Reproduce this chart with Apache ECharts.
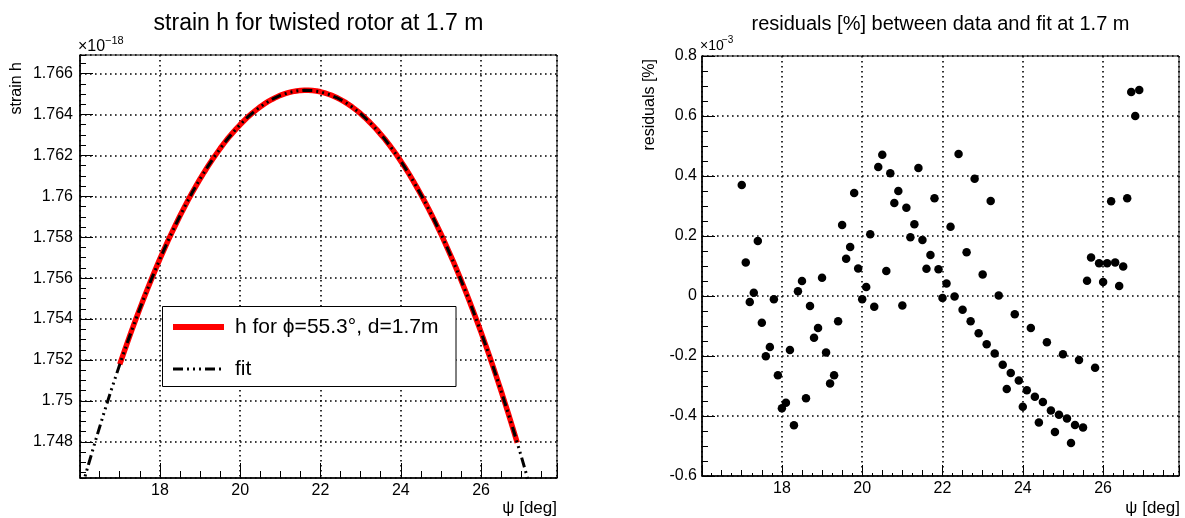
<!DOCTYPE html>
<html><head><meta charset="utf-8">
<script src="https://cdn.jsdelivr.net/npm/echarts@6/dist/echarts.min.js"></script>
<style>html,body{margin:0;padding:0;background:#fff}#c{width:1185px;height:518px}</style>
</head><body><div id="c"></div>
<script>
// ---- data ----
const psi = [17.0,17.1,17.2,17.3,17.4,17.5,17.6,17.7,17.8,17.9,
  18.0,18.1,18.2,18.3,18.4,18.5,18.6,18.7,18.8,18.9,
  19.0,19.1,19.2,19.3,19.4,19.5,19.6,19.7,19.8,19.9,
  20.0,20.1,20.2,20.3,20.4,20.5,20.6,20.7,20.8,20.9,
  21.0,21.1,21.2,21.3,21.4,21.5,21.6,21.7,21.8,21.9,
  22.0,22.1,22.2,22.3,22.4,22.5,22.6,22.7,22.8,22.9,
  23.0,23.1,23.2,23.3,23.4,23.5,23.6,23.7,23.8,23.9,
  24.0,24.1,24.2,24.3,24.4,24.5,24.6,24.7,24.8,24.9,
  25.0,25.1,25.2,25.3,25.4,25.5,25.6,25.7,25.8,25.9,
  26.0,26.1,26.2,26.3,26.4,26.5,26.6,26.7,26.8,26.9];
// strain h in units of 1e-18
const strainH = [1.75178,1.75235,1.75291,1.75346,1.75399,1.75451,1.75502,1.75552,1.75600,1.75648,
  1.75694,1.75738,1.75782,1.75824,1.75865,1.75905,1.75943,1.75981,1.76017,1.76051,
  1.76085,1.76117,1.76148,1.76178,1.76206,1.76234,1.76260,1.76285,1.76308,1.76330,
  1.76351,1.76371,1.76390,1.76407,1.76423,1.76438,1.76452,1.76464,1.76475,1.76485,
  1.76494,1.76501,1.76507,1.76512,1.76515,1.76518,1.76519,1.76519,1.76517,1.76515,
  1.76511,1.76506,1.76499,1.76492,1.76483,1.76473,1.76462,1.76449,1.76435,1.76420,
  1.76404,1.76386,1.76367,1.76347,1.76326,1.76303,1.76280,1.76255,1.76228,1.76201,
  1.76172,1.76142,1.76111,1.76078,1.76044,1.76009,1.75973,1.75936,1.75897,1.75857,
  1.75816,1.75773,1.75729,1.75685,1.75638,1.75591,1.75542,1.75492,1.75441,1.75388,
  1.75335,1.75280,1.75224,1.75166,1.75107,1.75048,1.74986,1.74924,1.74860,1.74795];
const fitPsi = [16.0,16.2,16.4,16.6,16.8,17.0,17.2,17.4,17.6,17.8,18.0,18.2,18.4,18.6,18.8,
  19.0,19.2,19.4,19.6,19.8,20.0,20.2,20.4,20.6,20.8,21.0,21.2,21.4,21.6,21.8,
  22.0,22.2,22.4,22.6,22.8,23.0,23.2,23.4,23.6,23.8,24.0,24.2,24.4,24.6,24.8,
  25.0,25.2,25.4,25.6,25.8,26.0,26.2,26.4,26.6,26.8,27.0,27.2,27.4];
const fitH = [1.74537,1.74675,1.74808,1.74937,1.75060,1.75178,1.75291,1.75399,1.75502,1.75600,1.75694,1.75782,1.75865,1.75943,1.76017,
  1.76085,1.76148,1.76206,1.76260,1.76308,1.76351,1.76390,1.76423,1.76452,1.76475,1.76494,1.76507,1.76515,1.76519,1.76517,
  1.76511,1.76499,1.76483,1.76462,1.76435,1.76404,1.76367,1.76326,1.76280,1.76228,1.76172,1.76111,1.76044,1.75973,1.75897,
  1.75816,1.75729,1.75638,1.75542,1.75441,1.75335,1.75224,1.75107,1.74986,1.74860,1.74729,1.74593,1.74452];
// residuals [%] in units of 1e-3
const residuals = [0.37,0.112,-0.02,0.011,0.183,-0.089,-0.201,-0.17,-0.011,-0.264,
  -0.374,-0.356,-0.18,-0.431,0.016,0.05,-0.341,-0.033,-0.139,-0.107,
  0.061,-0.188,-0.292,-0.264,-0.084,0.237,0.124,0.163,0.343,0.092,
  -0.011,0.03,0.206,-0.036,0.43,0.471,0.083,0.409,0.31,0.35,
  -0.032,0.294,0.196,0.239,0.427,0.187,0.091,0.137,0.326,0.089,
  -0.007,0.042,0.231,-0.002,0.473,-0.046,0.146,-0.084,0.391,-0.124,
  0.072,-0.161,0.317,-0.192,0.002,-0.229,-0.31,-0.257,-0.061,-0.282,
  -0.369,-0.314,-0.107,-0.336,-0.422,-0.353,-0.154,-0.382,-0.453,-0.396,
  -0.194,-0.408,-0.49,-0.43,-0.213,-0.438,0.051,0.128,-0.239,0.109,
  0.047,0.109,0.316,0.112,0.033,0.098,0.326,0.68,0.6,0.687];

const titles = ['strain h for twisted rotor at 1.7 m', 'residuals [%] between data and fit at 1.7 m'];
const yTitles = ['strain h', 'residuals [%]'];
const xTitle = 'ψ [deg]';
const legendLabels = ['h for ϕ=55.3°, d=1.7m', 'fit'];

// ---- layout ----
const FONT = '"Liberation Sans", Arial, Helvetica, sans-serif';
const G0 = {left: 80, top: 55, width: 477, height: 423};
const G1 = {left: 702, top: 56, width: 477, height: 420};
const fmt = v => String(parseFloat(v.toFixed(6)));
const dotted = {color: '#000', width: 1.6, type: [1.6, 3.4]};
const fitDash = [10, 4, 2, 4, 2, 4, 2, 4];
const blk = {color: '#000', width: 1};

function xAxisCfg(grid, tickLen, minorLen, minorSplit) {
  return {
    type: 'value', gridIndex: grid, position: 'bottom', min: 16.01, max: 27.89, splitNumber: 6,
    axisLine: {show: true, onZero: false, lineStyle: {color: '#000', width: 1.5}},
    axisTick: {show: true, inside: true, length: tickLen, lineStyle: blk},
    minorTick: {show: true, splitNumber: minorSplit, length: minorLen, lineStyle: blk},
    axisLabel: {color: '#000', fontFamily: FONT, fontSize: 16, margin: 5, showMinLabel: false, showMaxLabel: false, formatter: fmt},
    splitLine: {show: true, lineStyle: dotted}
  };
}
function tickOnlyAxis(grid, pos, min, max, splitNumber, len) {
  return {
    type: 'value', gridIndex: grid, position: pos, min: min, max: max, splitNumber: splitNumber,
    axisLine: {show: false, onZero: false},
    axisTick: {show: true, inside: true, length: len, lineStyle: blk},
    axisLabel: {show: false}, splitLine: {show: false}
  };
}

const chart = echarts.init(document.getElementById('c'), null, {renderer: 'canvas'});
chart.setOption({
  animation: false,
  backgroundColor: '#fff',
  grid: [
    Object.assign({show: true, borderColor: '#000', borderWidth: 1, containLabel: false}, G0),
    Object.assign({show: true, borderColor: '#000', borderWidth: 1, containLabel: false}, G1)
  ],
  xAxis: [
    xAxisCfg(0, 15, 7, 4),
    xAxisCfg(1, 11, 3, 8),
    tickOnlyAxis(1, 'bottom', 16.01, 27.89, 24, 6)
  ],
  yAxis: [
    {
      type: 'value', gridIndex: 0, position: 'left', min: 1.74623, max: 1.76691, splitNumber: 10,
      axisLine: {show: true, onZero: false, lineStyle: {color: '#000', width: 1.5}},
      axisTick: {show: true, inside: true, length: 13, lineStyle: blk},
      axisLabel: {color: '#000', fontFamily: FONT, fontSize: 16, margin: 7, showMinLabel: false, showMaxLabel: false, formatter: fmt},
      splitLine: {show: true, lineStyle: dotted}
    },
    tickOnlyAxis(0, 'left', 1.74623, 1.76691, 41, 6),
    {
      type: 'value', gridIndex: 1, position: 'left', min: -0.6, max: 0.8, interval: 0.2,
      axisLine: {show: true, onZero: false, lineStyle: {color: '#000', width: 1.5}},
      axisTick: {show: true, inside: true, length: 13, lineStyle: blk},
      minorTick: {show: true, splitNumber: 4, length: 6, lineStyle: blk},
      axisLabel: {color: '#000', fontFamily: FONT, fontSize: 16, margin: 5, formatter: fmt},
      splitLine: {show: true, lineStyle: dotted}
    }
  ],
  series: [
    {
      name: legendLabels[0], type: 'line', xAxisIndex: 0, yAxisIndex: 0, clip: true,
      data: psi.map((x, i) => [x, strainH[i]]), showSymbol: false, symbol: 'none',
      lineStyle: {color: '#ff0000', width: 5.5}, z: 3
    },
    {
      name: legendLabels[1], type: 'line', xAxisIndex: 0, yAxisIndex: 0, clip: true,
      data: fitPsi.map((x, i) => [x, fitH[i]]), showSymbol: false, symbol: 'none',
      lineStyle: {color: '#000', width: 3, type: fitDash, cap: 'butt'}, z: 4
    },
    {
      type: 'scatter', xAxisIndex: 1, yAxisIndex: 2,
      data: psi.map((x, i) => [x, residuals[i]]),
      symbol: 'circle', symbolSize: 8.5, itemStyle: {color: '#000', opacity: 1}
    }
  ],
  graphic: [
    {type: 'text', x: 318.5, y: 24, style: {text: titles[0], font: '23px ' + FONT, fill: '#000', align: 'center', verticalAlign: 'middle', textAlign: 'center', textVerticalAlign: 'middle'}},
    {type: 'text', x: 940.5, y: 24.5, style: {text: titles[1], font: '20px ' + FONT, fill: '#000', align: 'center', verticalAlign: 'middle', textAlign: 'center', textVerticalAlign: 'middle'}},
    // exponents
    {type: 'text', x: 78, y: 47, style: {text: '×10', font: '16px ' + FONT, fill: '#000', align: 'left', verticalAlign: 'middle', textAlign: 'left', textVerticalAlign: 'middle'}},
    {type: 'text', x: 105, y: 41, style: {text: '−18', font: '11px ' + FONT, fill: '#000', align: 'left', verticalAlign: 'middle', textAlign: 'left', textVerticalAlign: 'middle'}},
    {type: 'text', x: 700, y: 46, style: {text: '×10', font: '14px ' + FONT, fill: '#000', align: 'left', verticalAlign: 'middle', textAlign: 'left', textVerticalAlign: 'middle'}},
    {type: 'text', x: 722, y: 40, style: {text: '−3', font: '10px ' + FONT, fill: '#000', align: 'left', verticalAlign: 'middle', textAlign: 'left', textVerticalAlign: 'middle'}},
    // axis titles
    {type: 'text', x: 17, y: 62, rotation: Math.PI / 2, style: {text: yTitles[0], font: '16px ' + FONT, fill: '#000', align: 'right', verticalAlign: 'middle', textAlign: 'right', textVerticalAlign: 'middle'}},
    {type: 'text', x: 650, y: 59, rotation: Math.PI / 2, style: {text: yTitles[1], font: '16px ' + FONT, fill: '#000', align: 'right', verticalAlign: 'middle', textAlign: 'right', textVerticalAlign: 'middle'}},
    {type: 'text', x: 557, y: 508, style: {text: xTitle, font: '17px ' + FONT, fill: '#000', align: 'right', verticalAlign: 'middle', textAlign: 'right', textVerticalAlign: 'middle'}},
    {type: 'text', x: 1180, y: 508, style: {text: xTitle, font: '17px ' + FONT, fill: '#000', align: 'right', verticalAlign: 'middle', textAlign: 'right', textVerticalAlign: 'middle'}},
    // legend
    {type: 'rect', z: 100, shape: {x: 162.5, y: 306.5, width: 293.5, height: 80}, style: {fill: '#fff', stroke: '#000', lineWidth: 1}},
    {type: 'line', z: 101, shape: {x1: 173, y1: 327, x2: 224, y2: 327}, style: {stroke: '#ff0000', lineWidth: 6}},
    {type: 'text', z: 101, x: 235, y: 327, style: {text: legendLabels[0], font: '21px ' + FONT, fill: '#000', align: 'left', verticalAlign: 'middle', textAlign: 'left', textVerticalAlign: 'middle'}},
    {type: 'line', z: 101, shape: {x1: 173, y1: 369, x2: 224, y2: 369}, style: {stroke: '#000', lineWidth: 3, lineDash: fitDash}},
    {type: 'text', z: 101, x: 235, y: 369, style: {text: legendLabels[1], font: '21px ' + FONT, fill: '#000', align: 'left', verticalAlign: 'middle', textAlign: 'left', textVerticalAlign: 'middle'}}
  ]
});
</script>
</body></html>
